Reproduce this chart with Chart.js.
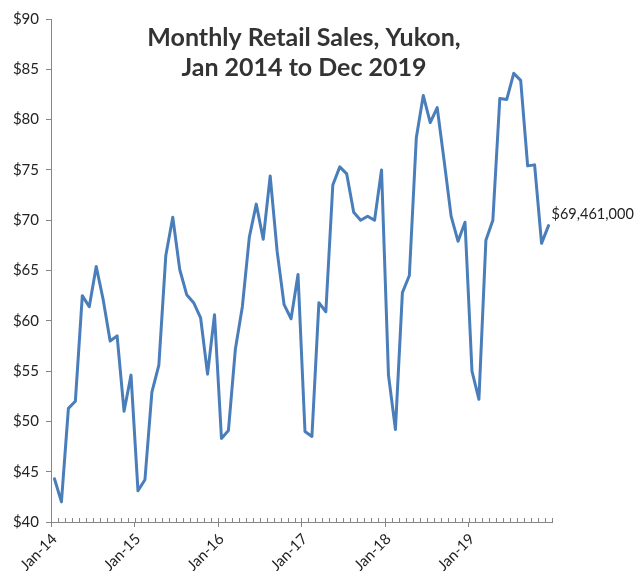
<!DOCTYPE html>
<html>
<head>
<meta charset="utf-8">
<script src="https://cdn.jsdelivr.net/npm/chart.js@4/dist/chart.umd.min.js"></script>
<style>
  html, body { margin: 0; padding: 0; background: #fff; }
  #wrap { width: 635px; height: 571px; position: relative; }
</style>
</head>
<body>
<div id="wrap"><canvas id="chartSales"></canvas></div>
<script>
// nilai penjualan bulanan (juta $)
const sales2014 = [44.3, 42.0, 51.3, 52.0, 62.5, 61.4, 65.4, 62.1, 58.0, 58.5, 51.0, 54.6];
const sales2015 = [43.1, 44.2, 52.9, 55.6, 66.5, 70.3, 65.1, 62.6, 61.8, 60.3, 54.7, 60.6];
const sales2016 = [48.3, 49.1, 57.2, 61.4, 68.3, 71.6, 68.1, 74.4, 66.9, 61.6, 60.2, 64.6];
const sales2017 = [49.0, 48.5, 61.8, 60.9, 73.5, 75.3, 74.6, 70.8, 70.0, 70.4, 70.0, 75.0];
const sales2018 = [54.6, 49.2, 62.8, 64.5, 78.2, 82.4, 79.7, 81.2, 75.9, 70.4, 67.9, 69.8];
const sales2019 = [55.0, 52.2, 68.0, 70.0, 82.1, 82.0, 84.6, 83.9, 75.4, 75.5, 67.7, 69.461];

const years = ["14", "15", "16", "17", "18", "19"];
const monthNames = ["Jan","Feb","Mar","Apr","May","Jun","Jul","Aug","Sep","Oct","Nov","Dec"];
const yTicks = [40, 45, 50, 55, 60, 65, 70, 75, 80, 85, 90];

const titleLines = ["Monthly Retail Sales, Yukon,", "Jan 2014 to Dec 2019"];
const lastLabel = "$69,461,000";

const sales = [].concat(sales2014, sales2015, sales2016, sales2017, sales2018, sales2019);
const labels = [];
years.forEach(y => monthNames.forEach(m => labels.push(m + "-" + y)));

const axisColor = "#868686";
const FONT = "Lato, 'Open Sans', sans-serif";

// ========== PLUGIN: judul, tick minor, label akhir ==========
const extras = {
    id: "extras",
    afterDraw(chart) {
        const { ctx, chartArea, scales: { x, y } } = chart;
        ctx.save();

        // tick minor (ke dalam) di batas tiap bulan
        const half = (x.getPixelForValue(1) - x.getPixelForValue(0)) / 2;
        ctx.strokeStyle = axisColor;
        ctx.lineWidth = 1;
        ctx.beginPath();
        for (let i = 0; i <= labels.length; i++) {
            const px = Math.round(x.getPixelForValue(i) - half) + 0.5;
            ctx.moveTo(px, chartArea.bottom - 4);
            ctx.lineTo(px, chartArea.bottom);
        }
        ctx.stroke();

        // judul
        ctx.fillStyle = "#333";
        ctx.font = "bold 25px " + FONT;
        ctx.textAlign = "center";
        ctx.textBaseline = "alphabetic";
        ctx.fillText(titleLines[0], 304, 46);
        ctx.fillText(titleLines[1], 304, 76);

        // label nilai terakhir
        const last = sales.length - 1;
        const lx = x.getPixelForValue(last);
        const ly = y.getPixelForValue(sales[last]);
        ctx.font = "14.5px " + FONT;
        ctx.textAlign = "left";
        ctx.textBaseline = "middle";
        ctx.fillStyle = "#222";
        ctx.fillText(lastLabel, lx + 3, ly - 11);

        ctx.restore();
    }
};

// ========== GRAFIK LINE ==========
new Chart(document.getElementById("chartSales"), {
    type: "line",
    data: {
        labels: labels,
        datasets: [{
            label: "Retail sales",
            data: sales,
            borderColor: "#4A7EBB",
            borderWidth: 3,
            borderJoinStyle: "round",
            borderCapStyle: "round",
            pointRadius: 0,
            tension: 0,
            fill: false
        }]
    },
    options: {
        responsive: true,
        maintainAspectRatio: false,
        animation: false,
        layout: { padding: { left: 0, right: 83, top: 19, bottom: 0 } },
        plugins: {
            legend: { display: false },
            title: { display: false },
            tooltip: { enabled: false }
        },
        scales: {
            x: {
                type: "category",
                offset: true,
                grid: {
                    offset: true,
                    drawOnChartArea: false,
                    drawTicks: true,
                    tickLength: 5,
                    tickColor: c => (c.index % 12 === 0 ? axisColor : "rgba(0,0,0,0)")
                },
                border: { color: axisColor, width: 1 },
                ticks: {
                    autoSkip: false,
                    minRotation: 45,
                    maxRotation: 45,
                    padding: 3,
                    color: "#222",
                    font: { family: FONT, size: 15 },
                    callback: (v, i) => (i % 12 === 0 ? labels[i] : "")
                },
                afterFit: s => { s.height = 49; }
            },
            y: {
                min: 40,
                max: 90,
                afterBuildTicks: s => { s.ticks = yTicks.map(v => ({ value: v })); },
                grid: {
                    drawOnChartArea: false,
                    drawTicks: true,
                    tickLength: 5,
                    color: axisColor
                },
                border: { color: axisColor, width: 1 },
                ticks: {
                    padding: 7,
                    color: "#222",
                    font: { family: FONT, size: 15 },
                    callback: v => "$" + v
                },
                afterFit: s => { s.width = 51; }
            }
        }
    },
    plugins: [extras]
});
</script>
</body>
</html>
